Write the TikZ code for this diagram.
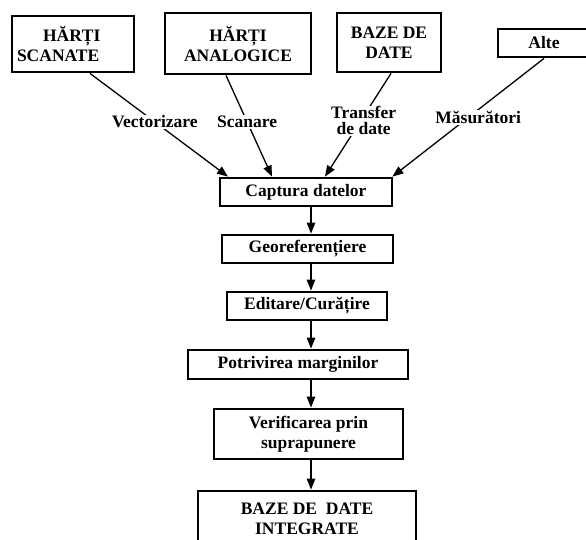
\documentclass[tikz,border=0pt]{standalone}
\usepackage{fontspec}
\setmainfont{Liberation Serif}
\usetikzlibrary{arrows.meta, positioning, calc}
\tikzset{
    boxnode/.style={draw, rectangle, line width=2.8pt, font=\fontsize{17.5}{20}\selectfont\bfseries, align=center, inner sep=2pt},
    srcbox/.style={boxnode},
    stepbox/.style={boxnode, minimum height=28pt},
    flowarrow/.style={-{Triangle[length=11pt, width=8.5pt]}, line width=1.3pt},
    edgelabel/.style={font=\fontsize{17.5}{16}\selectfont\bfseries, align=center, fill=white, inner sep=1pt},
}

\begin{document}
\begin{tikzpicture}[x=1pt, y=-1pt]
    \useasboundingbox (0,0) rectangle (586,539);

    % Sources
    \node[srcbox, minimum width=122pt, minimum height=56pt, text width=112pt, align=left] (scanate) at (73,44) {\hspace*{26pt}HĂRȚI\\SCANATE};
    \node[srcbox, minimum width=146pt, minimum height=61pt] (analog) at (238,43.5) {HĂRȚI\\ANALOGICE};
    \node[srcbox, minimum width=104pt, minimum height=59pt] (bazedate) at (389,42.5) {BAZE DE\\DATE};
    \node[srcbox, minimum width=92pt, minimum height=28pt] (alte) at (544,43) {Alte};

    % Chain
    \node[stepbox, minimum width=172pt] (captura) at (306,192) {Captura datelor};
    \node[stepbox, minimum width=171pt] (georef) at (307.5,249) {Georeferențiere};
    \node[stepbox, minimum width=160pt] (editare) at (307,306) {Editare/Curățire};
    \node[stepbox, minimum width=220pt, minimum height=29pt] (potrivire) at (298,364.5) {Potrivirea marginilor};
    \node[boxnode, minimum width=189pt, minimum height=50pt] (verificare) at (308.5,434) {Verificarea prin\\suprapunere};
    \node[boxnode, minimum width=218pt, minimum height=56pt] (integrate) at (307,519) {BAZE DE\ \ DATE\\INTEGRATE};

    % Inputs
    \draw[flowarrow] ([xshift=17pt]scanate.south) -- node[edgelabel, pos=0.47] {Vectorizare} ([xshift=-78pt]captura.north);
    \draw[flowarrow] ([xshift=-12pt]analog.south) -- node[edgelabel, pos=0.46] {Scanare} ([xshift=-34pt]captura.north);
    \draw[flowarrow] ([xshift=2pt]bazedate.south) -- node[edgelabel, pos=0.46, xshift=3pt] {Transfer\\de date} ([xshift=19pt]captura.north);
    \draw[flowarrow] (alte.south) -- node[edgelabel, pos=0.5, xshift=10pt] {Măsurători} ([xshift=-1pt]captura.north east);

    % Steps
    \coordinate (spine) at (311,0);
    \draw[flowarrow] (captura.south -| spine) -- (georef.north -| spine);
    \draw[flowarrow] (georef.south -| spine) -- (editare.north -| spine);
    \draw[flowarrow] (editare.south -| spine) -- (potrivire.north -| spine);
    \draw[flowarrow] (potrivire.south -| spine) -- (verificare.north -| spine);
    \draw[flowarrow] (verificare.south -| spine) -- (integrate.north -| spine);
\end{tikzpicture}
\end{document}
